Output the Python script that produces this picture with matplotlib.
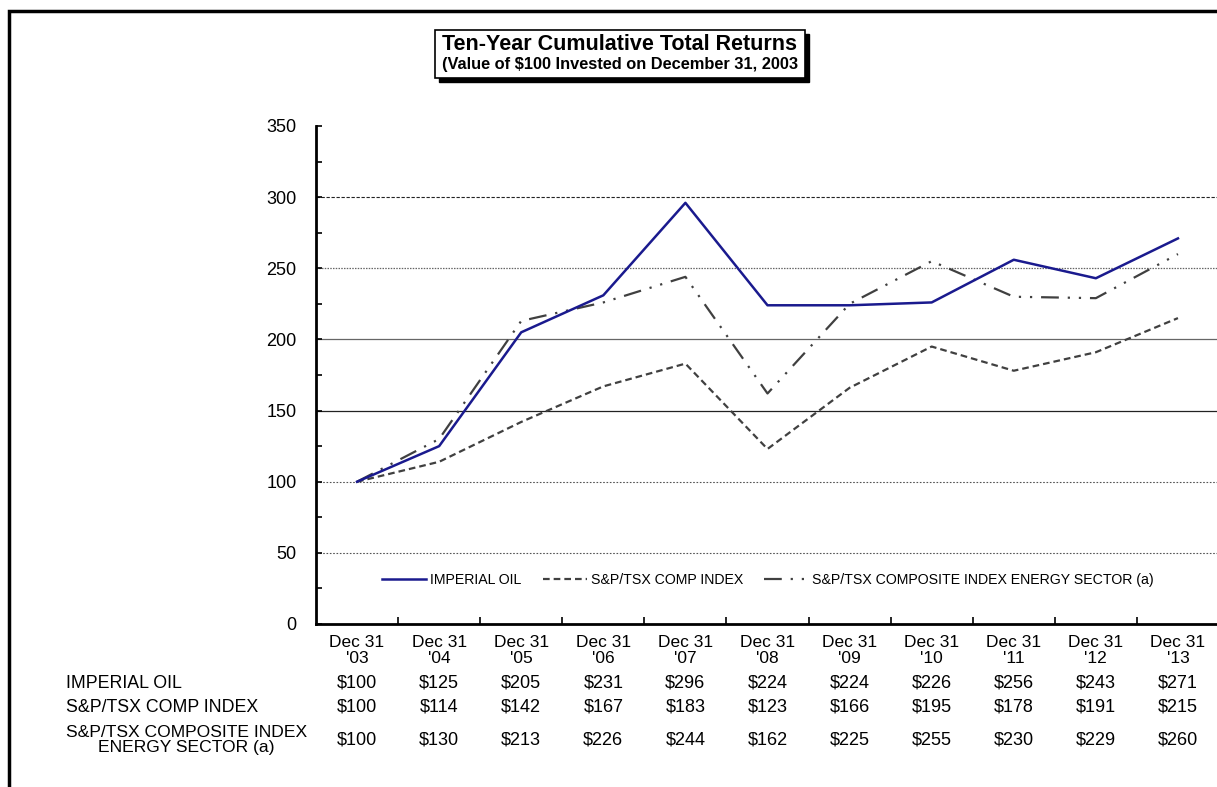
import matplotlib
matplotlib.use("Agg")
import matplotlib.pyplot as plt
import matplotlib.patches as mpatches
from matplotlib.transforms import blended_transform_factory

plt.rcParams['font.family'] = ['Liberation Sans', 'DejaVu Sans']

# datos
years = ["'03", "'04", "'05", "'06", "'07", "'08", "'09", "'10", "'11", "'12", "'13"]
imperial = [100, 125, 205, 231, 296, 224, 224, 226, 256, 243, 271]
tsx_comp = [100, 114, 142, 167, 183, 123, 166, 195, 178, 191, 215]
tsx_energy = [100, 130, 213, 226, 244, 162, 225, 255, 230, 229, 260]
row_labels = ["IMPERIAL OIL", "S&P/TSX COMP INDEX", "S&P/TSX COMPOSITE INDEX\nENERGY SECTOR (a)"]
legend_labels = ["IMPERIAL OIL", "S&P/TSX COMP INDEX", "S&P/TSX COMPOSITE INDEX ENERGY SECTOR (a)"]

W, H = 1217, 787
fig = plt.figure(figsize=(W / 100, H / 100), dpi=100)
ax = fig.add_axes([316 / W, 1 - 624 / H, (1219 - 316) / W, (624 - 126) / H])

x = list(range(len(years)))

# lineas de cuadricula
grid_styles = {
    50: dict(color="#555555", lw=0.8, ls=(0, (1.5, 1.5))),
    100: dict(color="#555555", lw=0.8, ls=(0, (1.5, 1.5))),
    150: dict(color="#222222", lw=0.9, ls="-"),
    200: dict(color="#666666", lw=0.9, ls="-"),
    250: dict(color="#666666", lw=0.9, ls=(0, (1.2, 1.0))),
    300: dict(color="#222222", lw=0.8, ls=(0, (3, 1.5))),
}
for yv, st in grid_styles.items():
    ax.axhline(yv, zorder=1, **st)

l1, = ax.plot(x, imperial, color="#1a1a8e", lw=1.8, zorder=4)
l2, = ax.plot(x, tsx_comp, color="#404040", lw=1.6, ls=(0, (3, 1.8)), zorder=3)
l3, = ax.plot(x, tsx_energy, color="#404040", lw=1.6, ls=(0, (8, 4, 1, 4, 1, 4)), zorder=3)

ax.set_xlim(-0.5, len(years) - 0.5)
ax.set_ylim(0, 350)

for s in ["top", "right"]:
    ax.spines[s].set_visible(False)
ax.spines["left"].set_linewidth(2)
ax.spines["bottom"].set_linewidth(2)

ax.set_yticks(range(0, 351, 50))
ax.set_yticks(range(25, 350, 50), minor=True)
ax.tick_params(axis="y", which="both", direction="in", length=4, width=1.2, labelsize=13, pad=14)

ax.set_xticks([i - 0.5 for i in range(1, len(years))])
ax.set_xticklabels([])
ax.set_xticks(x, minor=True)
ax.set_xticklabels(["Dec 31\n" + y for y in years], minor=True, fontsize=12.5, linespacing=1.1)
ax.tick_params(axis="x", which="major", direction="in", length=5, width=1.2)
ax.tick_params(axis="x", which="minor", length=0, pad=8)

# tabla debajo del grafico
trans = blended_transform_factory(ax.transData, fig.transFigure)
row_y = [1 - 683 / H, 1 - 707 / H, 1 - 740 / H]
for series, yy in zip([imperial, tsx_comp, tsx_energy], row_y):
    for i, v in enumerate(series):
        ax.text(i, yy, f"${v}", transform=trans, ha="center", va="center", fontsize=13)
fig.text(66 / W, row_y[0], row_labels[0], ha="left", va="center", fontsize=12.8)
fig.text(66 / W, row_y[1], row_labels[1], ha="left", va="center", fontsize=12.8)
fig.text(66 / W, row_y[2], row_labels[2], ha="left", va="center", fontsize=12.6,
         multialignment="center", linespacing=1.05)

# leyenda
leg = ax.legend([l1, l2, l3], legend_labels, loc="center", bbox_to_anchor=(768 / W, 1 - 580 / H),
                bbox_transform=fig.transFigure, ncol=3, frameon=False, prop=dict(size=10.2),
                handlelength=3.1, handletextpad=0.3, columnspacing=1.5)

# caja del titulo
bx0, by0, bx1, by1 = 435, 30, 805, 78
shadow = mpatches.Rectangle(((bx0 + 4) / W, 1 - (by1 + 4) / H), (bx1 - bx0) / W, (by1 - by0) / H,
                            transform=fig.transFigure, facecolor="black", edgecolor="black", zorder=1)
box = mpatches.Rectangle((bx0 / W, 1 - by1 / H), (bx1 - bx0) / W, (by1 - by0) / H,
                         transform=fig.transFigure, facecolor="white", edgecolor="black", lw=1.2, zorder=2)
fig.patches.extend([shadow, box])
fig.text(620 / W, 1 - 45 / H, "Ten-Year Cumulative Total Returns", ha="center", va="center",
         fontsize=15.5, fontweight="bold", zorder=3)
fig.text(620 / W, 1 - 65 / H, "(Value of $100 Invested on December 31, 2003", ha="center", va="center",
         fontsize=11.8, fontweight="bold", zorder=3)

# marco exterior
frame = mpatches.Rectangle((9 / W, 1 - 830 / H), 1300 / W, (830 - 11) / H, transform=fig.transFigure,
                           facecolor="none", edgecolor="black", lw=2.5, zorder=0)
fig.patches.append(frame)

fig.savefig("out.png", dpi=100)
